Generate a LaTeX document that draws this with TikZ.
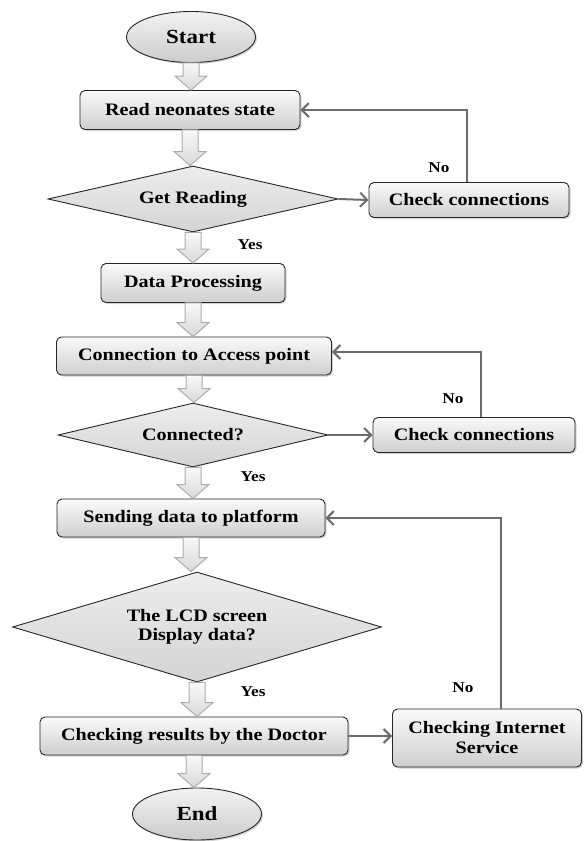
\documentclass[tikz,border=0pt]{standalone}
\usepackage{fontspec}
\setmainfont{Liberation Serif}[FakeStretch=1.15]
\usetikzlibrary{shapes.geometric,arrows.meta,calc,shadows}
\tikzset{
  shd/.style={drop shadow={opacity=0.35,shadow xshift=1.5pt,shadow yshift=-1.5pt}},
  box/.style={draw=black!85, line width=0.9pt, rounded corners=5pt, top color=gray!4, bottom color=gray!38, shd,
    font=\fontsize{17.5}{20}\selectfont\bfseries, align=center, inner sep=0pt},
  dec/.style={diamond, aspect=4, draw=black!85, line width=0.9pt, top color=gray!14, bottom color=gray!34,
    font=\fontsize{17.5}{19}\selectfont\bfseries, align=center, inner sep=0pt},
  term/.style={ellipse, draw=black!85, line width=0.9pt, top color=gray!10, bottom color=gray!40, shd,
    font=\fontsize{20}{22}\selectfont\bfseries, inner sep=0pt},
  conn/.style={draw=gray!85!black, line width=2pt, -{Straight Barb[length=7pt,width=14pt]}},
  lbl/.style={font=\fontsize{15}{17}\selectfont\bfseries, inner sep=0pt},
  barr/.style={draw=gray!65, line width=1pt, top color=gray!5, bottom color=gray!30}
}
\newcommand\bigarrow[2]{\path[barr] let \p1=(#1.south), \p2=(#2.north) in
  (\x1-8pt,\y1) -- (\x1+8pt,\y1) -- (\x1+8pt,\y2+14pt) -- (\x1+16pt,\y2+14pt) -- (\x1,\y2)
  -- (\x1-16pt,\y2+14pt) -- (\x1-8pt,\y2+14pt) -- cycle;}
\begin{document}
\begin{tikzpicture}[x=1pt,y=-1pt]
\useasboundingbox (0,0) rectangle (584,841);
\node[term, minimum width=129pt, minimum height=51pt] (start) at (191,37) {Start};
\node[box, minimum width=220pt, minimum height=39pt] (read) at (190,110) {Read neonates state};
\node[dec, minimum width=290pt, minimum height=66pt] (d1) at (193,199) {Get Reading};
\node[box, minimum width=200pt, minimum height=35pt] (ck1) at (469,200) {Check connections};
\node[box, minimum width=184pt, minimum height=39pt] (proc) at (193,283) {Data Processing};
\node[box, minimum width=275pt, minimum height=38pt] (acc) at (194,356) {Connection to Access point};
\node[dec, minimum width=270pt, minimum height=64pt] (d2) at (193,435) {Connected?};
\node[box, minimum width=202pt, minimum height=35pt] (ck2) at (474,435) {Check connections};
\node[box, minimum width=268pt, minimum height=38pt] (send) at (191,518) {Sending data to platform};
\node[dec, minimum width=369pt, minimum height=110pt] (d3) at (197,627) {The LCD screen\\Display data?};
\node[box, minimum width=308pt, minimum height=38pt] (doc) at (194,736) {Checking results by the Doctor};
\node[box, minimum width=189pt, minimum height=58pt] (cis) at (487,738) {Checking Internet\\Service};
\node[term, minimum width=129pt, minimum height=52pt] (stop) at (197,814) {End};

\bigarrow{start}{read}
\bigarrow{read}{d1}
\bigarrow{d1}{proc}
\bigarrow{proc}{acc}
\bigarrow{acc}{d2}
\bigarrow{d2}{send}
\bigarrow{send}{d3}
\bigarrow{d3}{doc}
\bigarrow{doc}{stop}

\draw[conn] (d1.east) -- (ck1.west);
\draw[conn] ([xshift=-2pt]ck1.north) |- (read.east);
\draw[conn] (d2.east) -- (ck2.west);
\coordinate (c2) at ($(ck2.north)+(7,0)$);
\draw[conn] (c2) |- ([yshift=4pt]acc.east);
\draw[conn] (doc.east) -- (doc.east -| cis.west);
\coordinate (c3) at ($(cis.north)+(14,0)$);
\draw[conn] (c3) |- (send.east);

\node[lbl] (no1) at (439,168) {No};
\node[lbl] (yes1) at (250,245) {Yes};
\node[lbl] (no2) at (453,399) {No};
\node[lbl] (yes2) at (253,477) {Yes};
\node[lbl] (yes3) at (253,692) {Yes};
\node[lbl] (no3) at (463,688) {No};
\end{tikzpicture}
\end{document}
